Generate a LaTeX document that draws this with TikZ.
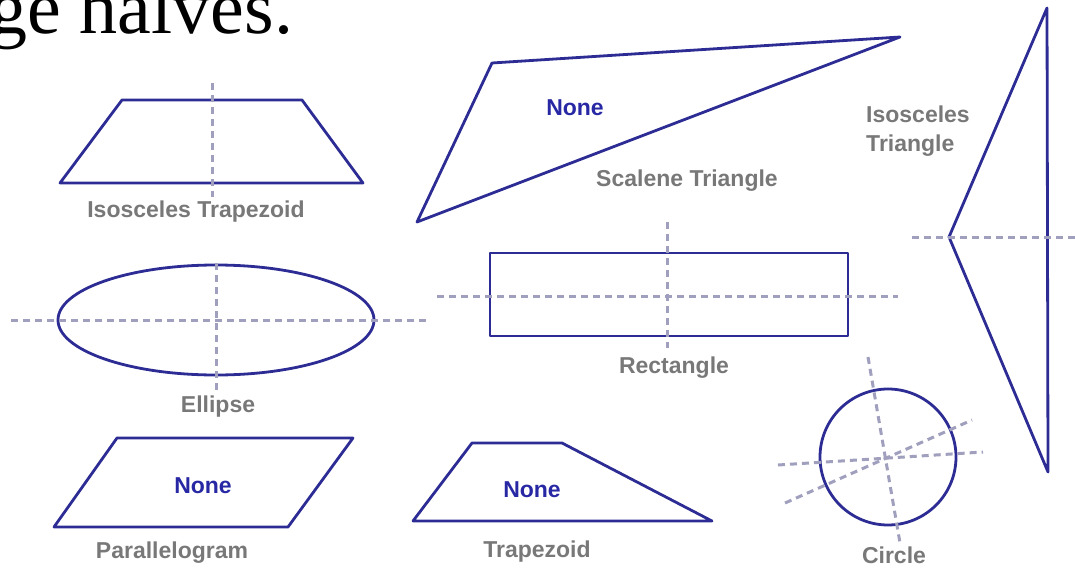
\documentclass[tikz,border=0pt]{standalone}
\usepackage{fontspec}
\usepackage{xcolor}
\usetikzlibrary{positioning}
\newfontfamily\lblfont{Liberation Sans}
\newfontfamily\headfont{Liberation Serif}
\definecolor{shapeblue}{RGB}{44,44,148}
\definecolor{noneblue}{RGB}{40,40,165}
\definecolor{lblgray}{RGB}{120,120,120}
\definecolor{axisgray}{RGB}{160,160,190}

\begin{document}
\begin{tikzpicture}[x=1pt,y=-1pt,
  outl/.style={draw=shapeblue, line width=2.8pt, line join=round},
  symline/.style={draw=axisgray, line width=3pt, dash pattern=on 7pt off 5pt},
  lbl/.style={text=lblgray, font=\lblfont\bfseries\fontsize{23}{26}\selectfont, anchor=base, inner sep=0pt},
  nonetxt/.style={lbl, text=noneblue}]

\useasboundingbox (0,0) rectangle (1075,567);
\clip (0,0) rectangle (1075,567);

% heading, cut off by the frame
\node[anchor=base west, inner sep=0pt, font=\headfont\fontsize{76}{80}\selectfont] (head) at (-11,34) {ge halves.};

% isosceles trapezoid
\draw[outl] (122,100) -- (302,100) -- (363,183) -- (60,183) -- cycle;
\draw[symline] (212,83) -- (212,197);
\node[lbl] (isotrap) at (196,217) {Isosceles Trapezoid};

% scalene triangle
\draw[outl] (492,63) -- (900,37) -- (417,222) -- cycle;
\node[nonetxt] (nonescal) at (575,115) {None};
\node[lbl] (scal) at (687,186) {Scalene Triangle};

% isosceles triangle
\draw[outl] (1047,8) -- (949,237) -- (1048,472) -- cycle;
\draw[symline] (912,237) -- (1080,237);
\node[lbl, anchor=base west] (isotri) at (866,123) {Isosceles};
\node[lbl, anchor=base west] (isotri2) at ([yshift=-28pt]isotri.base west) {Triangle};

% ellipse
\draw[outl] (216,320) ellipse[x radius=158pt, y radius=55pt];
\draw[symline] (11,320) -- (430,320);
\draw[symline] (216,263) -- (216,390);
\node[lbl] (ell) at (218,412) {Ellipse};

% rectangle
\draw[outl] (490,253) rectangle (848,336);
\draw[symline] (437,296) -- (898,296);
\draw[symline] (667,222) -- (667,348);
\node[lbl] (rect) at (674,373) {Rectangle};

% circle
\draw[outl] (888,457) circle[radius=68pt];
\draw[symline] (868,357) -- (900,543);
\draw[symline] (778,465) -- (983,452);
\draw[symline] (785,503) -- (972,420);
\node[lbl] (circ) at (894,563) {Circle};

% parallelogram
\draw[outl] (117,438) -- (353,438) -- (288,527) -- (54,527) -- cycle;
\node[nonetxt] (nonepar) at (203,493) {None};
\node[lbl] (par) at (172,558) {Parallelogram};

% trapezoid
\draw[outl] (472,443) -- (562,443) -- (712,521) -- (413,521) -- cycle;
\node[nonetxt] (nonetrap) at (532,497) {None};
\node[lbl] (trap) at (537,557) {Trapezoid};
\end{tikzpicture}
\end{document}
